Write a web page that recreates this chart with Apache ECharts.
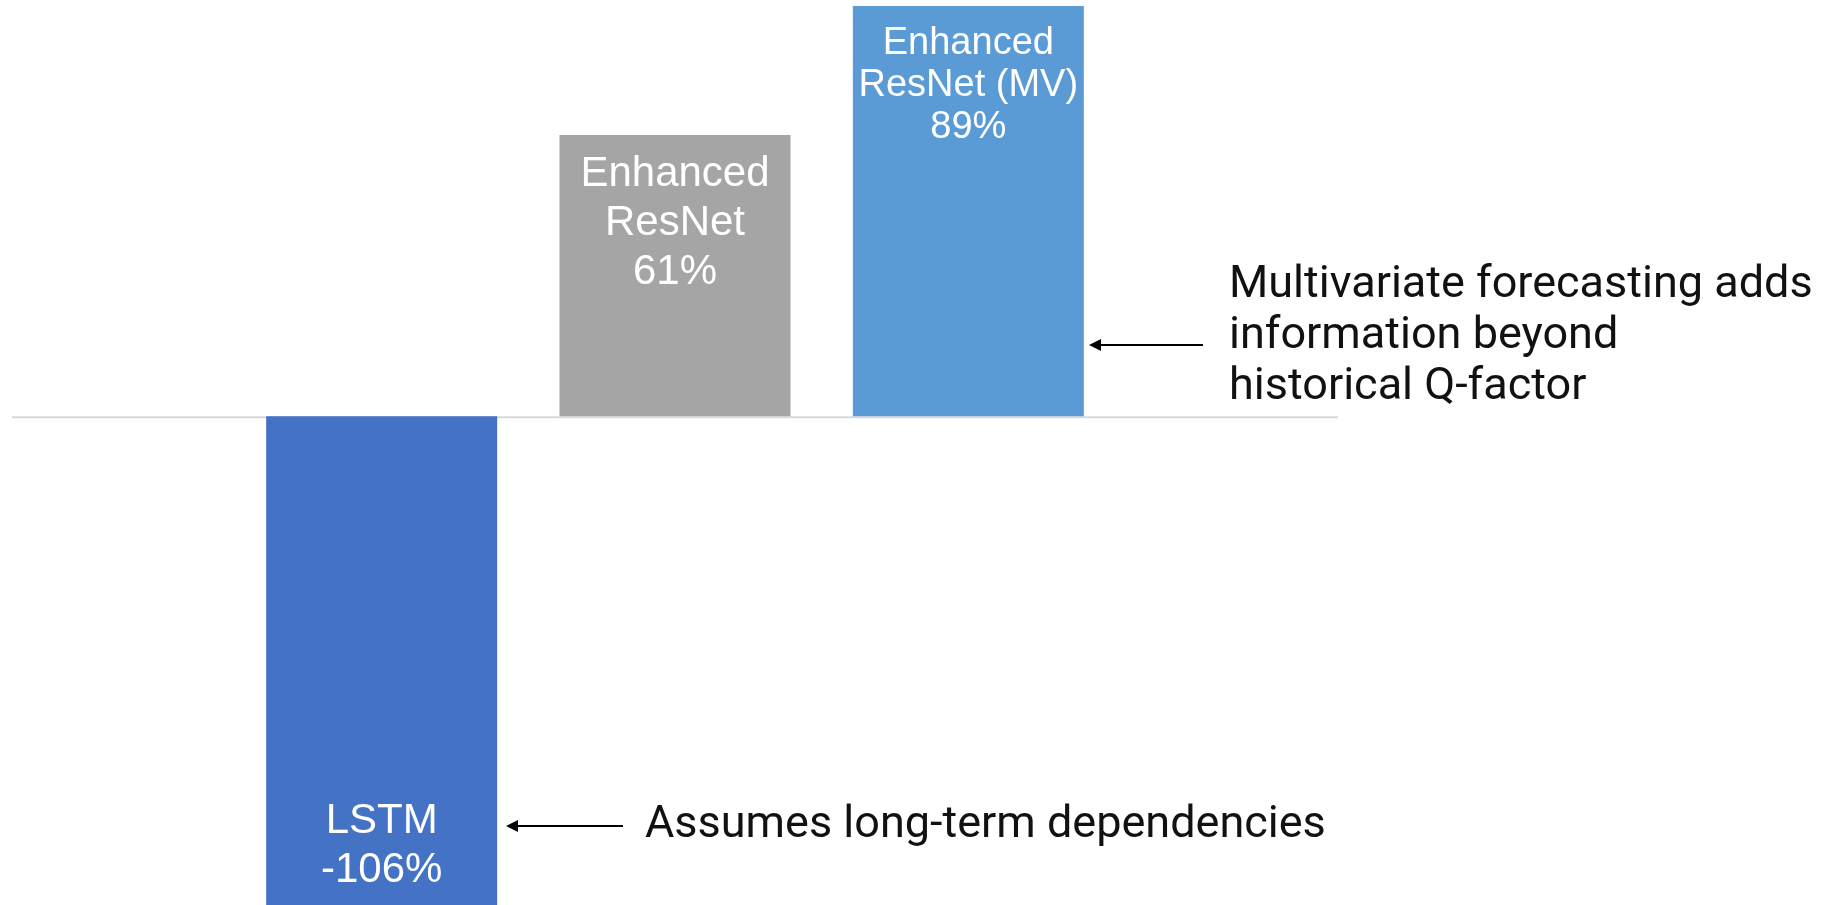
<!DOCTYPE html>
<html>
<head>
<meta charset="utf-8">
<script src="https://cdn.jsdelivr.net/npm/echarts@6/dist/echarts.min.js"></script>
<style>
    html, body { margin: 0; padding: 0; background: #fff; }
    #main { width: 1832px; height: 905px; }
</style>
</head>
<body>
<div id="main"></div>
<script>
    // model names and skill score (%)
    const models = ['LSTM', 'Enhanced\nResNet', 'Enhanced\nResNet (MV)']
    const scores = [-106, 61, 89]
    const barColors = ['#4472C4', '#A5A5A5', '#5B9BD5']
    const notes = [
        'Assumes long-term dependencies',
        'Multivariate forecasting adds\ninformation beyond\nhistorical Q-factor'
    ]

    // label tweaks per bar (the last one is set a little smaller)
    const labelStyles = [
        { position: 'insideBottom', distance: 10 },
        { position: 'insideTop', distance: 15 },
        { position: 'insideTop', distance: 17, fontSize: 38, lineHeight: 42 }
    ]

    const chart = echarts.init(document.getElementById('main'))

    const barData = scores.map((v, i) => ({
        value: v,
        itemStyle: { color: barColors[i] },
        label: labelStyles[i]
    }))

    const annoFont = { fontFamily: 'Roboto', fontSize: 45, fill: '#111', lineHeight: 51 }

    // arrow = line + small triangle head pointing left
    function arrow (x1, x2, y) {
        return [
            { type: 'line', shape: { x1: x1, y1: y, x2: x2 + 8, y2: y }, style: { stroke: '#000', lineWidth: 2 } },
            { type: 'polygon', shape: { points: [[x2, y], [x2 + 12, y - 6], [x2 + 12, y + 6]] }, style: { fill: '#000' } }
        ]
    }

    chart.setOption({
        animation: false,
        grid: { left: 235, right: 717, top: 6, bottom: -4 },
        xAxis: {
            type: 'category',
            data: models,
            show: false
        },
        yAxis: {
            type: 'value',
            min: -106,
            max: 89,
            show: false
        },
        series: [{
            type: 'bar',
            barWidth: 231,
            data: barData,
            label: {
                show: true,
                color: '#fff',
                fontFamily: 'Liberation Sans',
                fontSize: 42,
                lineHeight: 49,
                align: 'center',
                formatter: p => p.name + '\n' + p.value + '%'
            }
        }]
    })

    // zero line runs wider than the bars
    const y0 = chart.convertToPixel({ yAxisIndex: 0 }, 0)
    chart.setOption({
        graphic: [
            { type: 'line', z: 0, shape: { x1: 12, y1: y0 + 1, x2: 1338, y2: y0 + 1 }, style: { stroke: '#d9d9d9', lineWidth: 2 } },
            ...arrow(623, 506, 826),
            ...arrow(1203, 1089, 345),
            { type: 'text', left: 645, top: 800, style: Object.assign({ text: notes[0] }, annoFont) },
            { type: 'text', left: 1229, top: 260, style: Object.assign({ text: notes[1] }, annoFont) }
        ]
    })
</script>
</body>
</html>
